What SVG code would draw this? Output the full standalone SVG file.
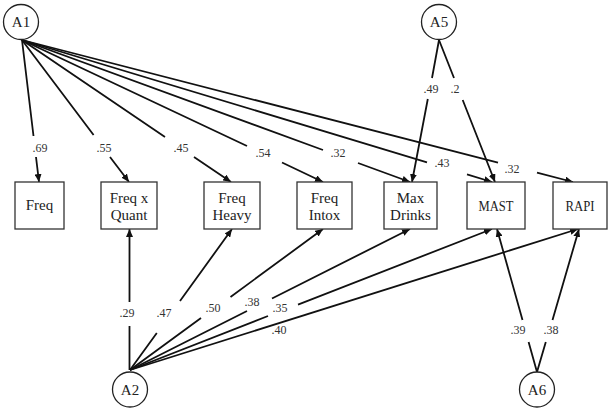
<svg xmlns="http://www.w3.org/2000/svg" width="612" height="412" viewBox="0 0 612 412">
<style>
.bg{fill:#fff}
.box{fill:#fff;stroke:#333;stroke-width:1.3}
.lat{fill:#fff;stroke:#222;stroke-width:1.3}
.bt{font-family:"Liberation Serif",serif;font-size:15px;fill:#222;text-anchor:middle}
.lt{font-family:"Liberation Serif",serif;font-size:15px;fill:#222;text-anchor:middle}
.el{font-family:"Liberation Serif",serif;font-size:12px;fill:#333;text-anchor:middle}
.c{fill:none;stroke:#111;stroke-width:1.8;marker-end:url(#ah)}
</style>
<defs>
<marker id="ah" markerUnits="userSpaceOnUse" markerWidth="9" markerHeight="7" refX="8" refY="3.5" orient="auto">
<path d="M0,0 L8,3.5 L0,7 z" fill="#111"/>
</marker>
</defs>
<rect class="bg" x="0" y="0" width="612" height="412"/>
<g id="connectors">
<path class="c" d="M22,40 L33.5,136 M36,157 L39,182"/>
<path class="c" d="M22,40 L93.6,135 M110,157 L129,182"/>
<path class="c" d="M22,40 L165,137 M194,157 L231,182"/>
<path class="c" d="M22,40 L247,146 M282,162.5 L323,182"/>
<path class="c" d="M22,40 L323,150 M358,163 L410,182"/>
<path class="c" d="M22,40 L427,162.3 M467,174.4 L492,182"/>
<path class="c" d="M22,40 L498,162.7 M537,172.7 L573,182"/>
<path class="c" d="M439,40 L432,78 M427.8,99 L412,182"/>
<path class="c" d="M439,40 L454,78 M462.7,100 L495,182"/>
<path class="c" d="M129.5,370 L129.5,326 M129.5,302 L129.5,229"/>
<path class="c" d="M130,370 L156.8,333 M180,301 L232,229"/>
<path class="c" d="M130,370 L201,318 M230.5,297 L323,229"/>
<path class="c" d="M130,370 L247,311 M272,298.5 L410,229"/>
<path class="c" d="M130,370 L268,316 M298,304.6 L492,229"/>
<path class="c" d="M130,370 L578,229"/>
<path class="c" d="M537,372 L528.6,342 M522.5,320 L497,229"/>
<path class="c" d="M537,372 L545.8,342 M552.5,320 L579,229"/>
</g>
<g id="edge-labels">
<text class="el" x="40" y="152">.69</text>
<text class="el" x="104" y="152">.55</text>
<text class="el" x="181" y="152">.45</text>
<text class="el" x="263" y="157">.54</text>
<text class="el" x="338" y="157">.32</text>
<text class="el" x="442" y="167">.43</text>
<text class="el" x="512" y="173">.32</text>
<text class="el" x="431" y="93">.49</text>
<text class="el" x="455" y="93">.2</text>
<text class="el" x="127" y="317">.29</text>
<text class="el" x="164" y="317">.47</text>
<text class="el" x="213" y="312">.50</text>
<text class="el" x="252" y="306">.38</text>
<text class="el" x="280" y="312">.35</text>
<text class="el" x="279" y="334">.40</text>
<text class="el" x="518" y="334">.39</text>
<text class="el" x="551" y="334">.38</text>
</g>
<g id="A1"><circle class="lat" cx="21" cy="22" r="17.5"/><text class="lt" x="21" y="27">A1</text></g>
<g id="A5"><circle class="lat" cx="439" cy="22" r="17.5"/><text class="lt" x="439" y="27">A5</text></g>
<g id="A2"><circle class="lat" cx="130" cy="389.5" r="17.5"/><text class="lt" x="130" y="394.5">A2</text></g>
<g id="A6"><circle class="lat" cx="537" cy="389.5" r="17.5"/><text class="lt" x="537" y="394.5">A6</text></g>
<g id="Freq"><rect class="box" x="15" y="182" width="49" height="47"/><text class="bt" x="39.5" y="210">Freq</text></g>
<g id="FreqxQuant"><rect class="box" x="101" y="182" width="56" height="47"/><text class="bt" x="129" y="203">Freq x</text><text class="bt" x="129" y="220">Quant</text></g>
<g id="FreqHeavy"><rect class="box" x="204" y="182" width="56" height="47"/><text class="bt" x="232" y="203">Freq</text><text class="bt" x="232" y="220">Heavy</text></g>
<g id="FreqIntox"><rect class="box" x="297" y="182" width="55" height="47"/><text class="bt" x="324.5" y="203">Freq</text><text class="bt" x="324.5" y="220">Intox</text></g>
<g id="MaxDrinks"><rect class="box" x="384" y="182" width="53" height="47"/><text class="bt" x="410.5" y="203">Max</text><text class="bt" x="410.5" y="220">Drinks</text></g>
<g id="MAST"><rect class="box" x="467" y="182" width="58" height="47"/><text class="bt" x="496" y="211" textLength="35" lengthAdjust="spacingAndGlyphs">MAST</text></g>
<g id="RAPI"><rect class="box" x="553" y="182" width="54" height="47"/><text class="bt" x="580" y="211" textLength="29" lengthAdjust="spacingAndGlyphs">RAPI</text></g>
</svg>
